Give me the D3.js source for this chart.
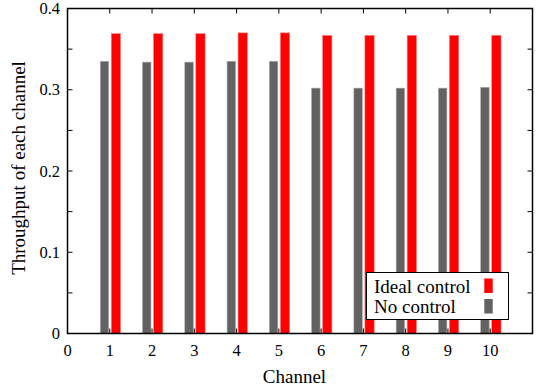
<!DOCTYPE html>
<html>
<head>
<meta charset="utf-8">
<script src="https://cdn.jsdelivr.net/npm/d3@7"></script>
<style>
  html, body { margin: 0; padding: 0; background: #fff; }
  svg text { font-family: "Liberation Serif", "Nimbus Roman", FreeSerif, serif !important; }
</style>
</head>
<body>
<svg id="chart" width="541" height="390" style="font-family: 'Liberation Serif', serif"></svg>
<script>
// Per-channel throughput, two control strategies
const channels = [1, 2, 3, 4, 5, 6, 7, 8, 9, 10];
const idealControl = [0.369, 0.369, 0.369, 0.370, 0.370, 0.367, 0.367, 0.367, 0.367, 0.367];
const noControl = [0.335, 0.334, 0.334, 0.335, 0.335, 0.302, 0.302, 0.302, 0.302, 0.303];
const xTickLabels = [0, 1, 2, 3, 4, 5, 6, 7, 8, 9, 10];
const yTickLabels = [0, 0.1, 0.2, 0.3, 0.4];
const seriesNames = ["Ideal control", "No control"];

const serifFace = "'Liberation Serif', 'Nimbus Roman', FreeSerif, serif";
const svg = d3.select("#chart").style("display", "block");
const plotLeft = 67.5, plotRight = 532.5, plotTop = 8.5, plotBottom = 333.5;

const x = d3.scaleLinear().domain([0, 11]).range([plotLeft, plotRight]);
const y = d3.scaleLinear().domain([0, 0.4]).range([plotBottom, plotTop]);

const red = "#ff0000", gray = "#626262";
const tickLen = 5;

function addText(sel, str, size) {
  return sel.append("text")
    .attr("font-family", serifFace)
    .style("font-family", serifFace)
    .style("font-size", size + "px")
    .attr("fill", "#000")
    .text(str);
}

// Bars: grey just left of each channel, red just right
const g = svg.append("g");
g.selectAll("rect.nc").data(channels).enter().append("rect")
  .attr("x", (c) => x(c - 0.225))
  .attr("width", (c) => x(c - 0.025) - x(c - 0.225))
  .attr("y", (c, i) => y(noControl[i]))
  .attr("height", (c, i) => y(0) - y(noControl[i]))
  .attr("fill", gray)
  .attr("stroke", "#a8a8a8").attr("stroke-width", 0.6);

g.selectAll("rect.ic").data(channels).enter().append("rect")
  .attr("x", (c) => x(c + 0.035))
  .attr("width", (c) => x(c + 0.255) - x(c + 0.035))
  .attr("y", (c, i) => y(idealControl[i]))
  .attr("height", (c, i) => y(0) - y(idealControl[i]))
  .attr("fill", red)
  .attr("stroke", "#ff8080").attr("stroke-width", 0.6);

// Inward ticks on all four sides
const yTicks = d3.range(0, 0.4001, 0.05);
const xTicks = d3.range(0, 11.001, 1);
const ticks = svg.append("g").attr("stroke", "#000").attr("stroke-width", 1);
yTicks.forEach((v) => {
  ticks.append("line").attr("x1", plotLeft).attr("x2", plotLeft + tickLen).attr("y1", y(v)).attr("y2", y(v));
  ticks.append("line").attr("x1", plotRight).attr("x2", plotRight - tickLen).attr("y1", y(v)).attr("y2", y(v));
});
xTicks.forEach((v) => {
  ticks.append("line").attr("x1", x(v)).attr("x2", x(v)).attr("y1", plotBottom).attr("y2", plotBottom - tickLen);
  ticks.append("line").attr("x1", x(v)).attr("x2", x(v)).attr("y1", plotTop).attr("y2", plotTop + tickLen);
});

// Frame
svg.append("rect")
  .attr("x", plotLeft).attr("y", plotTop)
  .attr("width", plotRight - plotLeft).attr("height", plotBottom - plotTop)
  .attr("fill", "none").attr("stroke", "#000").attr("stroke-width", 1.5);

// Tick labels
const fs = 16.5;
const yl = svg.append("g");
yTickLabels.forEach((d) => {
  addText(yl, d === 0 ? "0" : d3.format(".1f")(d), fs)
    .attr("x", 60).attr("y", y(d) + 5.5).attr("text-anchor", "end");
});
const xl = svg.append("g");
xTickLabels.forEach((d) => {
  addText(xl, String(d), fs)
    .attr("x", x(d)).attr("y", 356).attr("text-anchor", "middle");
});

// Axis titles
addText(svg, "Channel", 19)
  .attr("x", 294.5).attr("y", 383).attr("text-anchor", "middle");

addText(svg, "Throughput of each channel", 19)
  .attr("transform", "translate(25,168) rotate(-90)")
  .attr("text-anchor", "middle");

// Legend
const lg = svg.append("g");
lg.append("rect")
  .attr("x", 366.5).attr("y", 272.5).attr("width", 142).attr("height", 47)
  .attr("fill", "#fff").attr("stroke", "#000").attr("stroke-width", 1);
const legendColors = [red, gray];
seriesNames.forEach((name, i) => {
  addText(lg, name, 19).attr("x", 374).attr("y", 292.5 + i * 20.5);
  lg.append("rect")
    .attr("x", 484.3).attr("y", 278.5 + i * 20.5)
    .attr("width", 8.4).attr("height", 14.5)
    .attr("fill", legendColors[i]);
});
</script>
</body>
</html>
